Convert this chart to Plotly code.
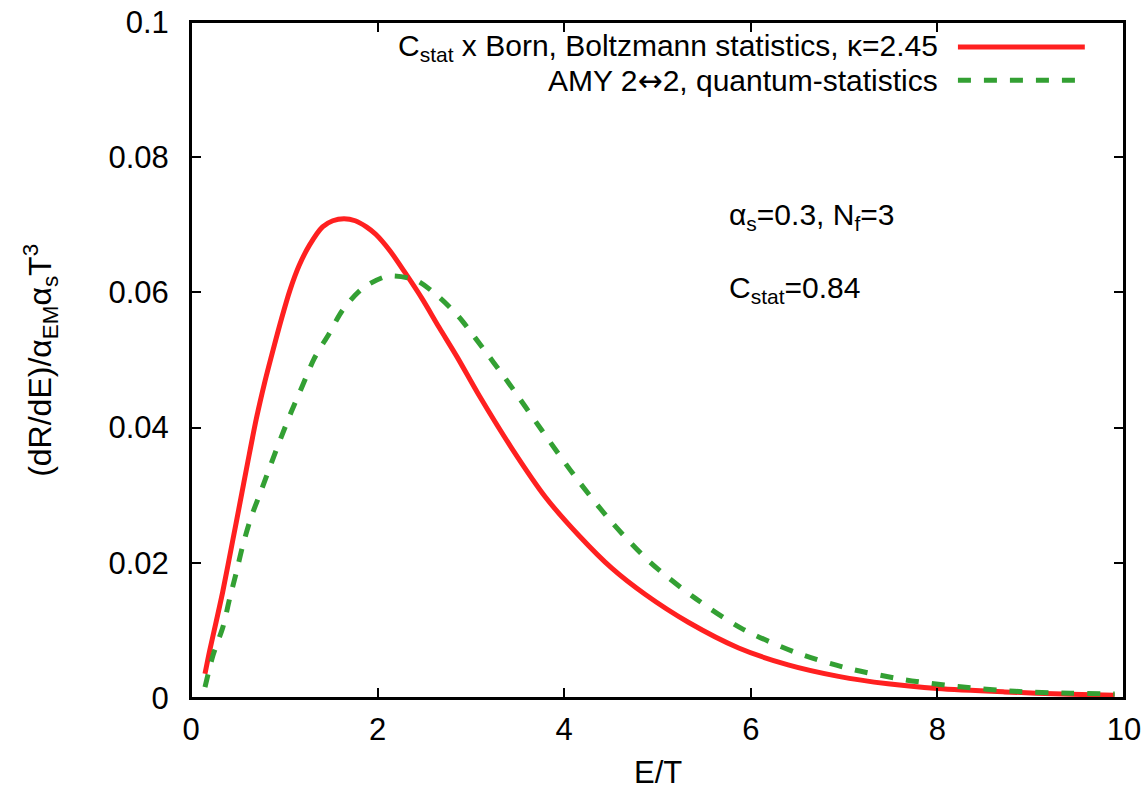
import plotly.graph_objects as go

# Data
x_born = [0.15, 0.20, 0.27, 0.34, 0.45, 0.52, 0.61, 0.70, 0.79, 0.88, 0.97, 1.06, 1.16, 1.27,
          1.41, 1.52, 1.64, 1.76, 1.88, 1.98, 2.13, 2.30, 2.48, 2.66, 2.85, 3.09, 3.44, 3.80, 4.16,
          4.51, 4.87, 5.33, 5.87, 6.40, 6.94, 7.47, 8.00, 8.72, 9.43, 9.90]
y_born = [0.0036, 0.0070, 0.0113, 0.0157, 0.0235, 0.0285, 0.0350, 0.0413, 0.0467, 0.0515, 0.0561,
          0.0603, 0.0640, 0.0670, 0.0697, 0.0706, 0.0709, 0.0706, 0.0697, 0.0686, 0.0662, 0.0628,
          0.0590, 0.0548, 0.0505, 0.0447, 0.0369, 0.0297, 0.0240, 0.0192, 0.0153, 0.0112, 0.0074,
          0.0049, 0.0032, 0.0021, 0.0014, 0.0009, 0.00055, 0.0004]

x_amy = [0.15, 0.235, 0.342, 0.414, 0.486, 0.556, 0.646, 0.753, 0.86, 0.967, 1.074, 1.198, 1.32,
         1.48, 1.626, 1.84, 2.107, 2.41, 2.66, 2.87, 3.05, 3.41, 3.76, 4.12, 4.51, 4.92, 5.41,
         5.90, 6.47, 7.04, 7.65, 8.22, 8.83, 9.43, 9.90]
y_amy = [0.0016, 0.0063, 0.0105, 0.0147, 0.0186, 0.0226, 0.0268, 0.0307, 0.0347, 0.0386, 0.0423,
         0.0463, 0.0502, 0.0539, 0.0574, 0.0606, 0.0624, 0.0618, 0.0593, 0.0564, 0.0532, 0.0465,
         0.0396, 0.0327, 0.0260, 0.0201, 0.0147, 0.0103, 0.0068, 0.0044, 0.0027, 0.0017, 0.0010,
         0.0007, 0.0006]

x_ticks = [0, 2, 4, 6, 8, 10]
y_ticks = [0, 0.02, 0.04, 0.06, 0.08, 0.1]
y_tick_text = ["0", "0.02", "0.04", "0.06", "0.08", "0.1"]

legend_born = "C<sub>stat</sub> x Born, Boltzmann statistics, κ=2.45"
legend_amy = "AMY 2<span style=\"font-family:'DejaVu Sans'\">↔</span>2, quantum-statistics"

RED = "#ff2020"
GREEN = "#33a033"
FONT = "Liberation Sans, Arial, Helvetica, sans-serif"
FS = 31
FS_LEG = 30

fig = go.Figure()
fig.add_trace(go.Scatter(x=x_born, y=y_born, mode="lines",
                         line=dict(color=RED, width=5, shape="spline", smoothing=0.8),
                         showlegend=False))
fig.add_trace(go.Scatter(x=x_amy, y=y_amy, mode="lines",
                         line=dict(color=GREEN, width=5, dash="13px,13px", shape="spline", smoothing=0.8),
                         showlegend=False))

axis_common = dict(showgrid=False, zeroline=False, showline=True, linecolor="black", linewidth=2,
                   mirror="ticks", ticks="inside", ticklen=10, tickwidth=1.5, tickcolor="black",
                   automargin=False, ticklabeloverflow="allow",
                   tickfont=dict(family=FONT, size=FS, color="black"))

fig.update_xaxes(range=[0, 10], tickvals=x_ticks, ticktext=[str(v) for v in x_ticks],
                 ticklabelstandoff=3, **axis_common)
fig.update_yaxes(range=[0, 0.1], tickvals=y_ticks, ticktext=y_tick_text,
                 ticklabelstandoff=14, **axis_common)

annotations = [
    dict(text=legend_born, xref="paper", yref="paper", x=0.803, y=0.963, xanchor="right",
         yanchor="middle", showarrow=False, font=dict(family=FONT, size=FS_LEG, color="black")),
    dict(text=legend_amy, xref="paper", yref="paper", x=0.803, y=0.914, xanchor="right",
         yanchor="middle", showarrow=False, font=dict(family=FONT, size=FS_LEG, color="black")),
    dict(text="α<sub>s</sub>=0.3, N<sub>f</sub>=3", xref="paper", yref="paper", x=0.5745, y=0.712,
         xanchor="left", yanchor="middle", showarrow=False, font=dict(family=FONT, size=FS_LEG, color="black")),
    dict(text="C<sub>stat</sub>=0.84", xref="paper", yref="paper", x=0.5745, y=0.605,
         xanchor="left", yanchor="middle", showarrow=False, font=dict(family=FONT, size=FS_LEG, color="black")),
    dict(text="E/T", xref="paper", yref="paper", x=0.5, y=-0.11, xanchor="center",
         yanchor="middle", showarrow=False, font=dict(family=FONT, size=FS, color="black")),
    dict(text="(dR/dE)/α<sub>EM</sub>α<sub>s</sub>T<sup>3</sup>", xref="paper", yref="paper",
         x=-0.162, y=0.5, xanchor="center", yanchor="middle", textangle=-90, showarrow=False,
         font=dict(family=FONT, size=32, color="black")),
]

shapes = [
    # plot frame
    dict(type="rect", xref="paper", yref="paper", x0=0, x1=1, y0=0, y1=1,
         line=dict(color="black", width=2), layer="above"),
    # legend keys
    dict(type="line", xref="paper", yref="paper", x0=0.822, x1=0.958, y0=0.963, y1=0.963,
         line=dict(color=RED, width=5)),
    dict(type="line", xref="paper", yref="paper", x0=0.822, x1=0.958, y0=0.914, y1=0.914,
         line=dict(color=GREEN, width=5, dash="13px,13px")),
]

fig.update_layout(width=1148, height=792, margin=dict(l=191, r=24, t=22, b=94),
                  paper_bgcolor="white", plot_bgcolor="white",
                  annotations=annotations, shapes=shapes,
                  font=dict(family=FONT, size=FS, color="black"))

# remove the default page margin so the figure fills the 1148x792 window exactly
fig.write_html("out.html", config={"displayModeBar": False},
               post_script="document.body.style.margin='0';document.body.style.overflow='hidden';")
